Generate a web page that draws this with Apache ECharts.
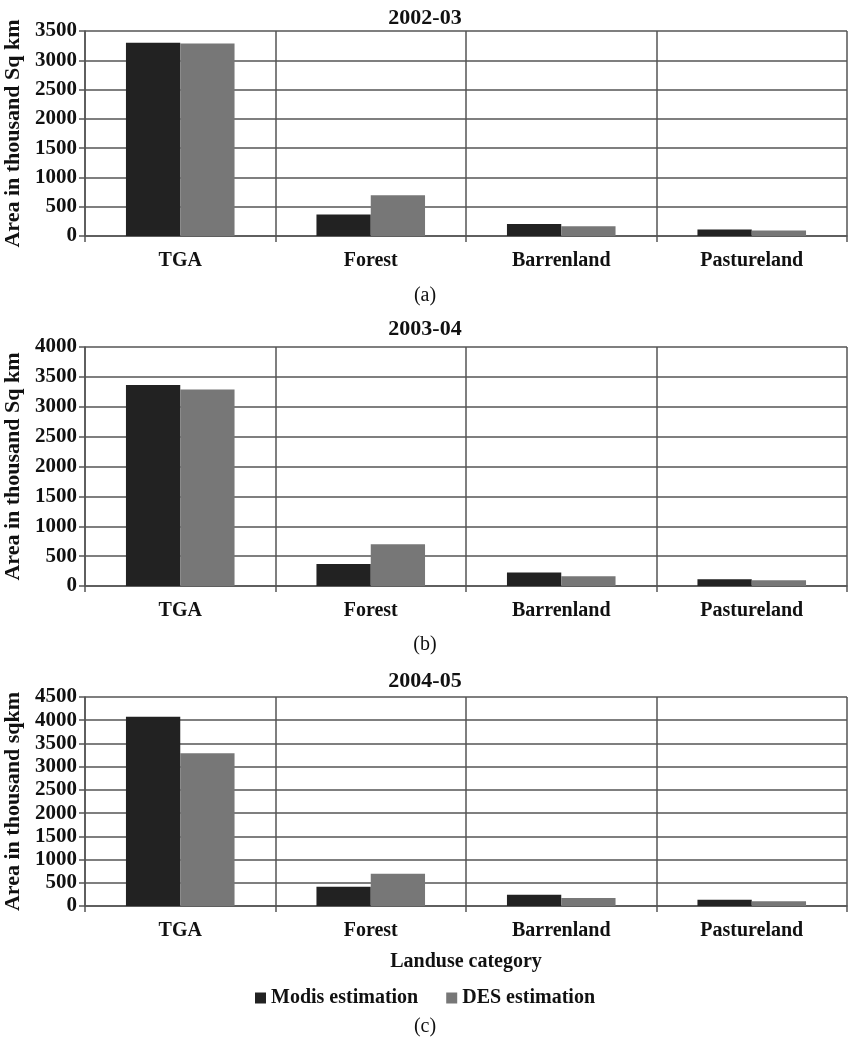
<!DOCTYPE html>
<html>
<head>
<meta charset="utf-8">
<script src="https://cdn.jsdelivr.net/npm/echarts@6/dist/echarts.min.js"></script>
<style>
  html, body { margin: 0; padding: 0; background: #fff; }
  #main { width: 850px; height: 1039px; }
</style>
</head>
<body>
<div id="main"></div>
<script>
var categories = ['TGA', 'Forest', 'Barrenland', 'Pastureland'];
var seriesNames = ['Modis estimation', 'DES estimation'];
var panelTitles = ['2002-03', '2003-04', '2004-05'];
var panelLabels = ['(a)', '(b)', '(c)'];
var yNames = ['Area in thousand Sq km', 'Area in thousand Sq km', 'Area in thousand sqkm'];
var yMax = [3500, 4000, 4500];

// values
var modis2002 = [3300, 365, 205, 112];
var des2002 = [3287, 697, 165, 95];
var modis2003 = [3365, 367, 225, 115];
var des2003 = [3287, 697, 165, 95];
var modis2004 = [4076, 417, 243, 136];
var des2004 = [3287, 697, 170, 100];

var modisData = [modis2002, modis2003, modis2004];
var desData = [des2002, des2003, des2004];

var font = '"Liberation Serif", "Times New Roman", serif';
var lineCol = '#555';
var grids = [
  { left: 85, width: 762, top: 31, height: 205, outerBoundsMode: 'none' },
  { left: 85, width: 762, top: 347, height: 239, outerBoundsMode: 'none' },
  { left: 85, width: 762, top: 697, height: 209, outerBoundsMode: 'none' }
];
var titleTops = [2, 313, 665];
var labelTops = [281, 630, 1012];

var xAxes = [], yAxes = [], series = [], titles = [];
for (var i = 0; i < 3; i++) {
  xAxes.push({
    type: 'category', gridIndex: i, data: categories,
    axisLine: { lineStyle: { color: lineCol, width: 1.5 } },
    axisTick: { show: true, length: 6, lineStyle: { color: lineCol, width: 1.5 } },
    splitLine: { show: true, lineStyle: { color: lineCol, width: 1.5 } },
    axisLabel: { color: '#111', fontFamily: font, fontWeight: 'bold', fontSize: 20, margin: 15 },
    name: i === 2 ? 'Landuse category' : '',
    nameLocation: 'middle', nameGap: 46,
    nameTextStyle: { color: '#111', fontFamily: font, fontWeight: 'bold', fontSize: 20 }
  });
  yAxes.push({
    type: 'value', gridIndex: i, min: 0, max: yMax[i], interval: 500,
    axisLine: { show: true, lineStyle: { color: lineCol, width: 1.5 } },
    axisTick: { show: true, length: 6, lineStyle: { color: lineCol, width: 1.5 } },
    splitLine: { show: true, lineStyle: { color: lineCol, width: 1.5 } },
    axisLabel: {
      color: '#111', fontFamily: font, fontWeight: 'bold', fontSize: 21, margin: 8,
      formatter: function (v) { return String(v); }
    },
    name: yNames[i], nameLocation: 'middle', nameRotate: 90, nameGap: 58,
    nameTextStyle: { color: '#111', fontFamily: font, fontWeight: 'bold', fontSize: 22 }
  });
  series.push({
    name: seriesNames[0], type: 'bar', xAxisIndex: i, yAxisIndex: i,
    data: modisData[i], barGap: '0%', barCategoryGap: '43%',
    itemStyle: { color: '#222' }
  });
  series.push({
    name: seriesNames[1], type: 'bar', xAxisIndex: i, yAxisIndex: i,
    data: desData[i], barGap: '0%', barCategoryGap: '43%',
    itemStyle: { color: '#777' }
  });
  titles.push({
    text: panelTitles[i], left: 'center', top: titleTops[i],
    textStyle: { color: '#111', fontFamily: font, fontWeight: 'bold', fontSize: 22 }
  });
  titles.push({
    text: panelLabels[i], left: 'center', top: labelTops[i],
    textStyle: { color: '#111', fontFamily: font, fontWeight: 'normal', fontSize: 20 }
  });
}

var myChart = echarts.init(document.getElementById('main'));
option = {
  backgroundColor: '#fff',
  animation: false,
  title: titles,
  legend: {
    data: seriesNames, left: 'center', top: 983,
    icon: 'rect', itemWidth: 11, itemHeight: 11, itemGap: 28,
    textStyle: { color: '#111', fontFamily: font, fontWeight: 'bold', fontSize: 20 }
  },
  grid: grids,
  xAxis: xAxes,
  yAxis: yAxes,
  series: series
};
myChart.setOption(option);
</script>
</body>
</html>
